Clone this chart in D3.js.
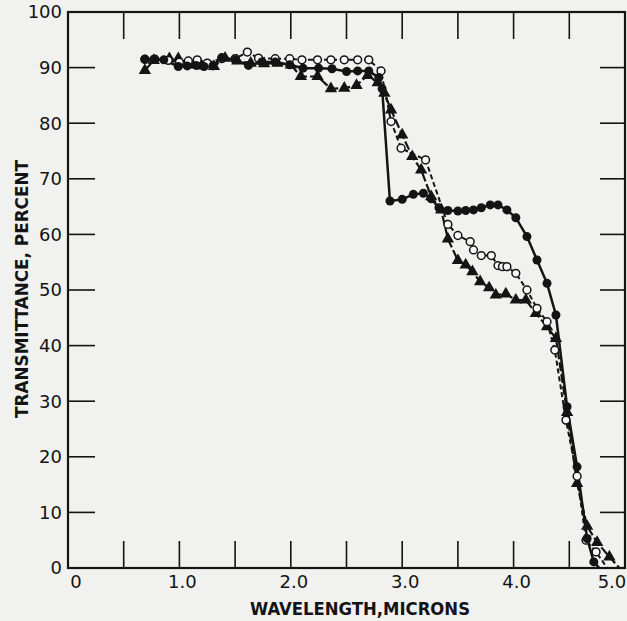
<!DOCTYPE html>
<html>
<head>
<meta charset="utf-8">
<script src="https://cdn.jsdelivr.net/npm/d3@7"></script>
<style>
  html, body { margin: 0; padding: 0; background: #f1f1f0; }
  svg { display: block; }
</style>
</head>
<body>
<div id="chart"></div>
<script>
// ---- data ----
const xTickValues = [0, 1, 2, 3, 4, 5];
const xTickLabels = ["0", "1.0", "2.0", "3.0", "4.0", "5.0"];
const xMinorTicks = [0.5, 1.0, 1.5, 2.0, 2.5, 3.0, 3.5, 4.0, 4.5];
const yTickValues = [0, 10, 20, 30, 40, 50, 60, 70, 80, 90, 100];
const yTickLabels = ["0", "10", "20", "30", "40", "50", "60", "70", "80", "90", "100"];
const yInnerTicks = [10, 20, 30, 40, 50, 60, 70, 80, 90];
const xTitle = "WAVELENGTH,MICRONS";
const yTitle = "TRANSMITTANCE, PERCENT";

// filled circles, solid line
const wavelengthA = [0.69, 0.77, 0.86, 0.99, 1.07, 1.15, 1.22, 1.30, 1.38, 1.50, 1.62, 1.74, 1.86, 1.99, 2.11, 2.25, 2.37, 2.50, 2.60, 2.70, 2.79, 2.82, 2.89, 3.00, 3.10, 3.19, 3.26, 3.33, 3.41, 3.50, 3.57, 3.64, 3.71, 3.79, 3.86, 3.94, 4.02, 4.12, 4.21, 4.30, 4.38, 4.48, 4.57, 4.66, 4.72, 4.77];
const transA     = [91.5, 91.5, 91.4, 90.2, 90.3, 90.4, 90.2, 90.3, 91.8, 91.4, 90.4, 91.0, 91.0, 90.5, 89.9, 89.9, 89.8, 89.3, 89.4, 89.4, 88.2, 86.2, 66.0, 66.3, 67.2, 67.4, 66.4, 64.8, 64.3, 64.2, 64.3, 64.4, 64.8, 65.3, 65.3, 64.4, 63.0, 59.6, 55.4, 51.2, 45.5, 29.0, 18.2, 5.3, 1.1, 0];

// open circles, dashed line
const wavelengthB = [0.69, 0.78, 0.90, 1.00, 1.08, 1.16, 1.25, 1.38, 1.50, 1.61, 1.71, 1.86, 1.99, 2.10, 2.24, 2.36, 2.48, 2.60, 2.70, 2.81, 2.90, 2.99, 3.21, 3.41, 3.50, 3.61, 3.64, 3.71, 3.80, 3.86, 3.90, 3.94, 4.02, 4.12, 4.21, 4.30, 4.37, 4.47, 4.57, 4.65, 4.74, 4.84];
const transB     = [91.5, 91.5, 91.3, 91.0, 91.2, 91.4, 90.8, 91.6, 91.6, 92.8, 91.7, 91.6, 91.6, 91.4, 91.4, 91.4, 91.4, 91.4, 91.4, 89.4, 80.3, 75.5, 73.4, 61.8, 59.8, 58.7, 57.2, 56.2, 56.2, 54.4, 54.2, 54.2, 53.0, 50.0, 46.7, 44.3, 39.2, 26.6, 16.5, 5.0, 2.9, 0];

// filled triangles, dash line
const wavelengthC = [0.69, 0.77, 0.91, 0.99, 1.10, 1.20, 1.31, 1.41, 1.52, 1.64, 1.76, 1.88, 2.00, 2.09, 2.24, 2.36, 2.48, 2.59, 2.69, 2.78, 2.84, 2.90, 3.00, 3.09, 3.17, 3.26, 3.35, 3.41, 3.50, 3.57, 3.63, 3.70, 3.78, 3.84, 3.93, 4.02, 4.11, 4.20, 4.30, 4.38, 4.48, 4.57, 4.66, 4.75, 4.86, 4.95];
const transC     = [89.5, 91.3, 91.6, 91.6, 90.5, 90.3, 90.2, 91.7, 91.2, 90.8, 90.7, 90.8, 90.5, 88.4, 88.4, 86.2, 86.3, 86.8, 88.6, 87.3, 85.4, 82.4, 77.9, 74.0, 71.6, 66.8, 64.4, 59.2, 55.3, 54.5, 53.3, 51.5, 50.4, 49.1, 49.3, 48.2, 48.2, 45.8, 43.4, 41.3, 28.0, 15.2, 7.5, 4.6, 2.0, 0];

// ---- chart ----
const W = 627, H = 621;
const ink = "#141414";
const svg = d3.select("#chart").append("svg").attr("width", W).attr("height", H);
svg.append("rect").attr("width", W).attr("height", H).attr("fill", "#f1f1f0");

const x = d3.scaleLinear().domain([0, 5]).range([68, 625]);
const y = d3.scaleLinear().domain([0, 100]).range([568, 12]);
const tickLen = 27;
const font = "'DejaVu Sans', sans-serif";

// frame
svg.append("rect")
  .attr("x", x(0)).attr("y", y(100))
  .attr("width", x(5) - x(0)).attr("height", y(0) - y(100))
  .attr("fill", "none").attr("stroke", ink).attr("stroke-width", 2.2);

// inner ticks bottom and top
const g = svg.append("g").attr("stroke", ink).attr("stroke-width", 1.6);
g.selectAll(".tb").data(xMinorTicks).join("line")
  .attr("x1", d => x(d)).attr("x2", d => x(d))
  .attr("y1", y(0)).attr("y2", y(0) - tickLen);
g.selectAll(".tt").data(xMinorTicks).join("line")
  .attr("x1", d => x(d)).attr("x2", d => x(d))
  .attr("y1", y(100)).attr("y2", y(100) + tickLen);
g.selectAll(".tl").data(yInnerTicks).join("line")
  .attr("x1", x(0)).attr("x2", x(0) + tickLen)
  .attr("y1", d => y(d)).attr("y2", d => y(d));
g.selectAll(".tr").data(yInnerTicks).join("line")
  .attr("x1", x(5)).attr("x2", x(5) - tickLen + 2)
  .attr("y1", d => y(d)).attr("y2", d => y(d));

// tick labels
svg.append("g").selectAll("text").data(yTickValues).join("text")
  .attr("x", x(0) - 6).attr("y", d => y(d))
  .attr("dy", "0.36em")
  .attr("text-anchor", "end")
  .attr("font-family", font).attr("font-size", 18).attr("fill", ink)
  .text((d, i) => yTickLabels[i]);

svg.append("g").selectAll("text").data(xTickValues).join("text")
  .attr("x", d => x(d) + (d === 0 ? 8 : d === 5 ? -13 : 3)).attr("y", 588)
  .attr("text-anchor", "middle")
  .attr("font-family", font).attr("font-size", 18).attr("fill", ink)
  .text((d, i) => xTickLabels[i]);

// axis titles
svg.append("text")
  .attr("x", 250).attr("y", 615)
  .attr("textLength", 220).attr("lengthAdjust", "spacingAndGlyphs")
  .attr("font-family", font).attr("font-weight", "bold").attr("font-size", 17).attr("fill", ink)
  .text(xTitle);

svg.append("text")
  .attr("transform", "translate(28,418) rotate(-90)")
  .attr("textLength", 258).attr("lengthAdjust", "spacingAndGlyphs")
  .attr("font-family", font).attr("font-weight", "bold").attr("font-size", 17).attr("fill", ink)
  .text(yTitle);

// series
function toPts(xs, ys) { return xs.map((v, i) => ({ w: v, t: ys[i] })); }
const line = d3.line().x(d => x(d.w)).y(d => y(d.t));

const dataA = toPts(wavelengthA, transA);
const dataB = toPts(wavelengthB, transB);
const dataC = toPts(wavelengthC, transC);

svg.append("path").datum(dataC).attr("d", line)
  .attr("fill", "none").attr("stroke", ink).attr("stroke-width", 2.2)
  .attr("stroke-dasharray", "9,3");
svg.append("path").datum(dataB).attr("d", line)
  .attr("fill", "none").attr("stroke", ink).attr("stroke-width", 2)
  .attr("stroke-dasharray", "5,3");
svg.append("path").datum(dataA).attr("d", line)
  .attr("fill", "none").attr("stroke", ink).attr("stroke-width", 2.5);

const tri = d3.symbol().type(d3.symbolTriangle).size(66);
svg.append("g").selectAll("path").data(dataC.filter(d => d.t > 0)).join("path")
  .attr("d", tri)
  .attr("transform", d => `translate(${x(d.w)},${y(d.t)})`)
  .attr("fill", ink);

svg.append("g").selectAll("circle").data(dataB.filter(d => d.t > 0)).join("circle")
  .attr("cx", d => x(d.w)).attr("cy", d => y(d.t)).attr("r", 3.9)
  .attr("fill", "#f8f8f8").attr("stroke", ink).attr("stroke-width", 1.5);

svg.append("g").selectAll("circle").data(dataA.filter(d => d.t > 0)).join("circle")
  .attr("cx", d => x(d.w)).attr("cy", d => y(d.t)).attr("r", 4.5)
  .attr("fill", ink);
</script>
</body>
</html>
